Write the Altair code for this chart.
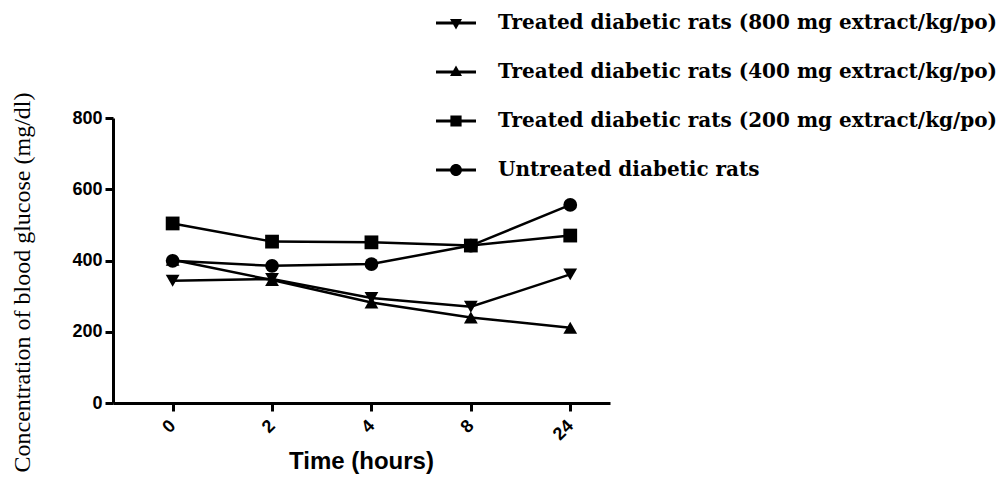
import json
import altair as alt
import pandas as pd

# ---- data ----
times = ["0", "2", "4", "8", "24"]
series = [
    "Treated diabetic rats (800 mg extract/kg/po)",
    "Treated diabetic rats (400 mg extract/kg/po)",
    "Treated diabetic rats (200 mg extract/kg/po)",
    "Untreated diabetic rats",
]
g800 = [343, 348, 295, 270, 361]
g400 = [402, 345, 282, 240, 211]
g200 = [504, 453, 451, 442, 470]
untreated = [399, 385, 390, 442, 556]
y_ticks = [0, 200, 400, 600, 800]

values = [g800, g400, g200, untreated]
rows = []
for s, vals in zip(series, values):
    for i, (t, v) in enumerate(zip(times, vals)):
        rows.append({"series": s, "idx": i, "time": t, "glucose": v})
df = pd.DataFrame(rows)

# plot marker shapes and sizes
plot_shapes = ["triangle-down", "triangle-up", "square", "circle"]
plot_sizes = [190, 190, 165, 150]

# legend symbols: line + marker, as unit paths
bar = "M-1,-0.075H1V0.075H-1Z"
legend_paths = [
    bar + " M-0.3,-0.2L0.3,-0.2L0,0.32Z",
    bar + " M0,-0.32L0.3,0.2L-0.3,0.2Z",
    bar + " M-0.28,-0.28H0.28V0.28H-0.28Z",
    bar + " M-0.3,0A0.3,0.3,0,1,1,0.3,0A0.3,0.3,0,1,1,-0.3,0Z",
]

label_expr = json.dumps(times) + "[datum.value]"

x_enc = alt.X(
    "idx:Q",
    scale=alt.Scale(domain=[-0.6, 4.4], nice=False, zero=False),
    axis=alt.Axis(
        values=list(range(len(times))),
        labelExpr=label_expr,
        labelAngle=-45,
        labelAlign="right",
        labelBaseline="middle",
        labelFont="Liberation Sans",
        labelFontWeight="bold",
        labelFontSize=18,
        labelColor="black",
        tickSize=8,
        labelPadding=12,
        title="Time (hours)",
        titleFont="Liberation Sans",
        titleFontWeight="bold",
        titleFontSize=24,
        titleColor="black",
        titleX=248,
        titleY=58,
        titleBaseline="middle",
        titleAlign="center",
    ),
)
y_enc = alt.Y(
    "glucose:Q",
    scale=alt.Scale(domain=[0, 800], nice=False),
    axis=alt.Axis(
        values=y_ticks,
        labelFont="Liberation Sans",
        labelFontWeight="bold",
        labelFontSize=18,
        labelColor="black",
        tickSize=8,
        labelPadding=3,
        title="Concentration of blood glucose (mg/dl)",
        titleFont="Liberation Serif",
        titleFontWeight="normal",
        titleFontSize=24,
        titleColor="black",
        titleX=-91,
        titleY=164,
        titleAngle=-90,
        titleAlign="center",
        titleBaseline="middle",
    ),
)

base = alt.Chart(df)

lines = base.mark_line(color="black", strokeWidth=2.5).encode(
    x=x_enc, y=y_enc, detail="series:N"
)

points = base.mark_point(filled=True, color="black", opacity=1).encode(
    x=x_enc,
    y=y_enc,
    shape=alt.Shape("series:N", scale=alt.Scale(domain=series, range=plot_shapes), legend=None),
    size=alt.Size("series:N", scale=alt.Scale(domain=series, range=plot_sizes), legend=None),
)

legend_layer = base.transform_filter("false").mark_point(filled=True, color="black").encode(
    x=x_enc,
    y=y_enc,
    shape=alt.Shape(
        "series:N",
        scale=alt.Scale(domain=series, range=legend_paths),
        legend=alt.Legend(
            orient="none",
            legendX=323,
            legendY=-115,
            title=None,
            symbolSize=1600,
            symbolFillColor="black",
            symbolStrokeColor="black",
            symbolStrokeWidth=0,
            symbolOpacity=1,
            labelFont="DejaVu Serif",
            labelFontWeight="bold",
            labelFontSize=20,
            labelColor="black",
            labelOffset=22,
            labelLimit=800,
            rowPadding=19,
            padding=0,
        ),
    ),
)

chart = (
    alt.layer(lines, points, legend_layer)
    .resolve_scale(shape="independent", size="independent")
    .properties(
        width=497,
        height=285,
        autosize=alt.AutoSizeParams(type="none"),
        padding={"left": 105, "top": 110, "right": 389, "bottom": 76},
    )
    .configure_view(stroke=None)
    .configure_axis(
        grid=False,
        domainColor="black",
        domainWidth=3,
        tickColor="black",
        tickWidth=3,
    )
)

chart.save("out.html", embed_options={"renderer": "svg", "actions": False})
